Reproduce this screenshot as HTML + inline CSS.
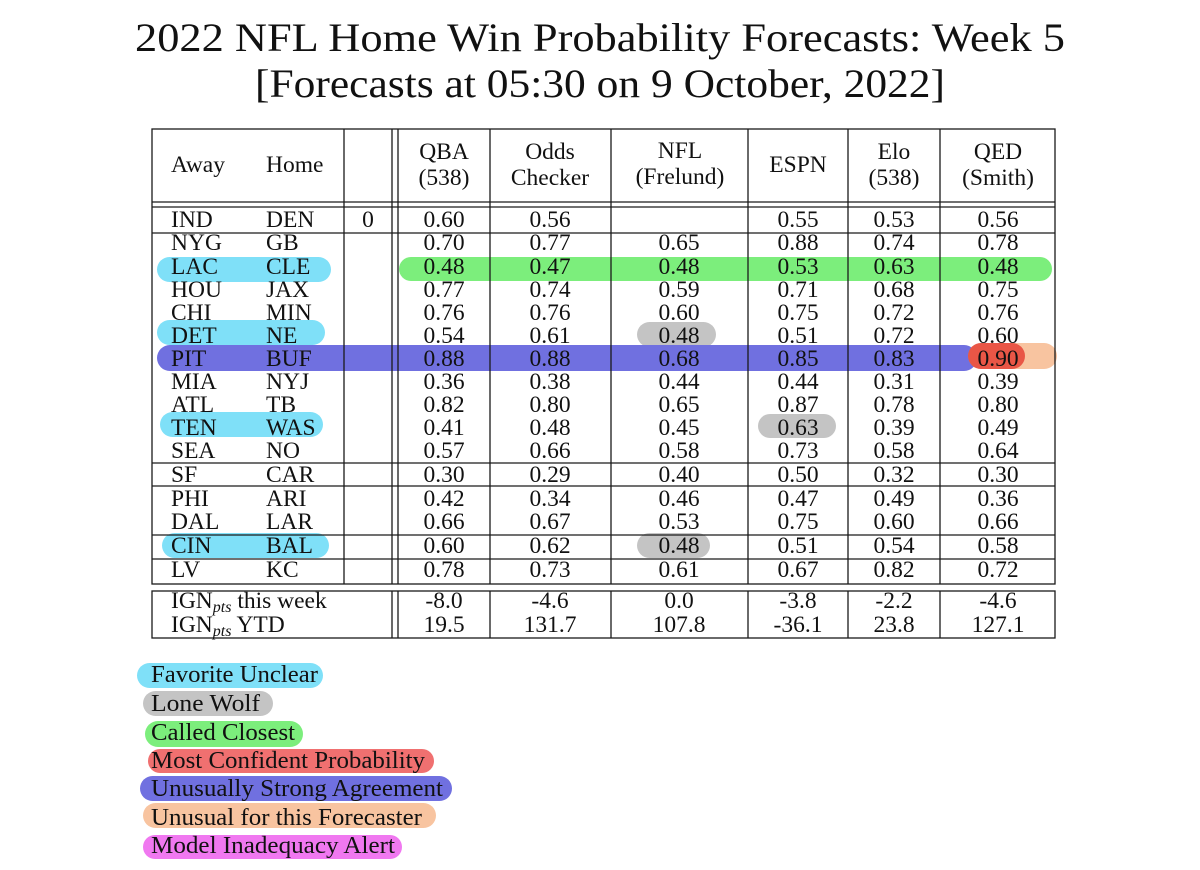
<!DOCTYPE html>
<html>
<head>
<meta charset="utf-8">
<style>
  html,body{margin:0;padding:0;background:#fff;}
  svg{display:block;}
  text{font-family:"Liberation Serif","DejaVu Serif",serif;fill:#111;}
  .t{font-size:40px;}
  .c{font-size:23.5px;text-anchor:middle;}
  .l{font-size:23.5px;}
  .lg{font-size:24px;}
  .ln{stroke:#1a1a1a;stroke-width:1.3;fill:none;}
</style>
</head>
<body>
<svg width="1200" height="870" viewBox="0 0 1200 870" xmlns="http://www.w3.org/2000/svg">
  <rect x="0" y="0" width="1200" height="870" fill="#fff"/>

  <!-- Title -->
  <text class="t" x="135" y="51" textLength="930" lengthAdjust="spacingAndGlyphs">2022 NFL Home Win Probability Forecasts: Week 5</text>
  <text class="t" x="255" y="97" textLength="690" lengthAdjust="spacingAndGlyphs">[Forecasts at 05:30 on 9 October, 2022]</text>

  <!-- Highlights -->
  <!-- LAC CLE -->
  <rect x="157" y="257" width="174" height="25" rx="12.5" fill="#7fe0f8"/>
  <rect x="399" y="257" width="653" height="24" rx="12" fill="#7cee7c"/>
  <!-- DET NE -->
  <rect x="157" y="320" width="168" height="25" rx="12.5" fill="#7fe0f8"/>
  <rect x="637" y="322" width="79" height="25" rx="12.5" fill="#c4c4c4"/>
  <!-- PIT BUF -->
  <rect x="157" y="345" width="820" height="26" rx="13" fill="#7070e0"/>
  <rect x="968" y="343" width="89" height="26" rx="13" fill="#f8c4a0"/>
  <rect x="968" y="343" width="57" height="26" rx="13" fill="#f07070" style="mix-blend-mode:multiply"/>
  <!-- TEN WAS -->
  <rect x="160" y="412" width="163" height="25" rx="12.5" fill="#7fe0f8"/>
  <rect x="758" y="414" width="78" height="24" rx="12" fill="#c4c4c4"/>
  <!-- CIN BAL -->
  <rect x="162" y="533" width="167" height="25" rx="12.5" fill="#7fe0f8"/>
  <rect x="637" y="533" width="73" height="25" rx="12.5" fill="#c4c4c4"/>

  <!-- Table 1 lines -->
  <rect class="ln" x="152" y="129" width="903" height="455"/>
  <line class="ln" x1="344" y1="129" x2="344" y2="584"/>
  <line class="ln" x1="392" y1="129" x2="392" y2="584"/>
  <line class="ln" x1="398" y1="129" x2="398" y2="584"/>
  <line class="ln" x1="490" y1="129" x2="490" y2="584"/>
  <line class="ln" x1="611" y1="129" x2="611" y2="584"/>
  <line class="ln" x1="748" y1="129" x2="748" y2="584"/>
  <line class="ln" x1="848" y1="129" x2="848" y2="584"/>
  <line class="ln" x1="940" y1="129" x2="940" y2="584"/>
  <line class="ln" x1="152" y1="202" x2="1055" y2="202"/>
  <line class="ln" x1="152" y1="207" x2="1055" y2="207"/>
  <line class="ln" x1="152" y1="233" x2="1055" y2="233"/>
  <line class="ln" x1="152" y1="463" x2="1055" y2="463"/>
  <line class="ln" x1="152" y1="486" x2="1055" y2="486"/>
  <line class="ln" x1="152" y1="535" x2="1055" y2="535"/>
  <line class="ln" x1="152" y1="559" x2="1055" y2="559"/>

  <!-- Table 2 lines -->
  <rect class="ln" x="152" y="591" width="903" height="47"/>
  <line class="ln" x1="392" y1="591" x2="392" y2="638"/>
  <line class="ln" x1="398" y1="591" x2="398" y2="638"/>
  <line class="ln" x1="490" y1="591" x2="490" y2="638"/>
  <line class="ln" x1="611" y1="591" x2="611" y2="638"/>
  <line class="ln" x1="748" y1="591" x2="748" y2="638"/>
  <line class="ln" x1="848" y1="591" x2="848" y2="638"/>
  <line class="ln" x1="940" y1="591" x2="940" y2="638"/>

  <!-- Header -->
  <text class="l" x="171" y="172">Away</text>
  <text class="l" x="266" y="172">Home</text>
  <text class="c" x="444" y="159">QBA</text>
  <text class="c" x="444" y="185">(538)</text>
  <text class="c" x="550" y="159">Odds</text>
  <text class="c" x="550" y="185">Checker</text>
  <text class="c" x="680" y="158">NFL</text>
  <text class="c" x="680" y="184">(Frelund)</text>
  <text class="c" x="798" y="172">ESPN</text>
  <text class="c" x="894" y="159">Elo</text>
  <text class="c" x="894" y="185">(538)</text>
  <text class="c" x="998" y="159">QED</text>
  <text class="c" x="998" y="185">(Smith)</text>

  <!-- Rows -->
  <g>
    <!-- IND -->
    <text class="l" x="171" y="227">IND</text><text class="l" x="266" y="227">DEN</text>
    <text class="c" x="368" y="227">0</text>
    <text class="c" x="444" y="227">0.60</text><text class="c" x="550" y="227">0.56</text>
    <text class="c" x="798" y="227">0.55</text><text class="c" x="894" y="227">0.53</text><text class="c" x="998" y="227">0.56</text>
    <!-- NYG -->
    <text class="l" x="171" y="250">NYG</text><text class="l" x="266" y="250">GB</text>
    <text class="c" x="444" y="250">0.70</text><text class="c" x="550" y="250">0.77</text><text class="c" x="679" y="250">0.65</text>
    <text class="c" x="798" y="250">0.88</text><text class="c" x="894" y="250">0.74</text><text class="c" x="998" y="250">0.78</text>
    <!-- LAC -->
    <text class="l" x="171" y="274">LAC</text><text class="l" x="266" y="274">CLE</text>
    <text class="c" x="444" y="274">0.48</text><text class="c" x="550" y="274">0.47</text><text class="c" x="679" y="274">0.48</text>
    <text class="c" x="798" y="274">0.53</text><text class="c" x="894" y="274">0.63</text><text class="c" x="998" y="274">0.48</text>
    <!-- HOU -->
    <text class="l" x="171" y="297">HOU</text><text class="l" x="266" y="297">JAX</text>
    <text class="c" x="444" y="297">0.77</text><text class="c" x="550" y="297">0.74</text><text class="c" x="679" y="297">0.59</text>
    <text class="c" x="798" y="297">0.71</text><text class="c" x="894" y="297">0.68</text><text class="c" x="998" y="297">0.75</text>
    <!-- CHI -->
    <text class="l" x="171" y="320">CHI</text><text class="l" x="266" y="320">MIN</text>
    <text class="c" x="444" y="320">0.76</text><text class="c" x="550" y="320">0.76</text><text class="c" x="679" y="320">0.60</text>
    <text class="c" x="798" y="320">0.75</text><text class="c" x="894" y="320">0.72</text><text class="c" x="998" y="320">0.76</text>
    <!-- DET -->
    <text class="l" x="171" y="343">DET</text><text class="l" x="266" y="343">NE</text>
    <text class="c" x="444" y="343">0.54</text><text class="c" x="550" y="343">0.61</text><text class="c" x="679" y="343">0.48</text>
    <text class="c" x="798" y="343">0.51</text><text class="c" x="894" y="343">0.72</text><text class="c" x="998" y="343">0.60</text>
    <!-- PIT -->
    <text class="l" x="171" y="366">PIT</text><text class="l" x="266" y="366">BUF</text>
    <text class="c" x="444" y="366">0.88</text><text class="c" x="550" y="366">0.88</text><text class="c" x="679" y="366">0.68</text>
    <text class="c" x="798" y="366">0.85</text><text class="c" x="894" y="366">0.83</text><text class="c" x="998" y="366">0.90</text>
    <!-- MIA -->
    <text class="l" x="171" y="389">MIA</text><text class="l" x="266" y="389">NYJ</text>
    <text class="c" x="444" y="389">0.36</text><text class="c" x="550" y="389">0.38</text><text class="c" x="679" y="389">0.44</text>
    <text class="c" x="798" y="389">0.44</text><text class="c" x="894" y="389">0.31</text><text class="c" x="998" y="389">0.39</text>
    <!-- ATL -->
    <text class="l" x="171" y="412">ATL</text><text class="l" x="266" y="412">TB</text>
    <text class="c" x="444" y="412">0.82</text><text class="c" x="550" y="412">0.80</text><text class="c" x="679" y="412">0.65</text>
    <text class="c" x="798" y="412">0.87</text><text class="c" x="894" y="412">0.78</text><text class="c" x="998" y="412">0.80</text>
    <!-- TEN -->
    <text class="l" x="171" y="435">TEN</text><text class="l" x="266" y="435">WAS</text>
    <text class="c" x="444" y="435">0.41</text><text class="c" x="550" y="435">0.48</text><text class="c" x="679" y="435">0.45</text>
    <text class="c" x="798" y="435">0.63</text><text class="c" x="894" y="435">0.39</text><text class="c" x="998" y="435">0.49</text>
    <!-- SEA -->
    <text class="l" x="171" y="458">SEA</text><text class="l" x="266" y="458">NO</text>
    <text class="c" x="444" y="458">0.57</text><text class="c" x="550" y="458">0.66</text><text class="c" x="679" y="458">0.58</text>
    <text class="c" x="798" y="458">0.73</text><text class="c" x="894" y="458">0.58</text><text class="c" x="998" y="458">0.64</text>
    <!-- SF -->
    <text class="l" x="171" y="482">SF</text><text class="l" x="266" y="482">CAR</text>
    <text class="c" x="444" y="482">0.30</text><text class="c" x="550" y="482">0.29</text><text class="c" x="679" y="482">0.40</text>
    <text class="c" x="798" y="482">0.50</text><text class="c" x="894" y="482">0.32</text><text class="c" x="998" y="482">0.30</text>
    <!-- PHI -->
    <text class="l" x="171" y="506">PHI</text><text class="l" x="266" y="506">ARI</text>
    <text class="c" x="444" y="506">0.42</text><text class="c" x="550" y="506">0.34</text><text class="c" x="679" y="506">0.46</text>
    <text class="c" x="798" y="506">0.47</text><text class="c" x="894" y="506">0.49</text><text class="c" x="998" y="506">0.36</text>
    <!-- DAL -->
    <text class="l" x="171" y="529">DAL</text><text class="l" x="266" y="529">LAR</text>
    <text class="c" x="444" y="529">0.66</text><text class="c" x="550" y="529">0.67</text><text class="c" x="679" y="529">0.53</text>
    <text class="c" x="798" y="529">0.75</text><text class="c" x="894" y="529">0.60</text><text class="c" x="998" y="529">0.66</text>
    <!-- CIN -->
    <text class="l" x="171" y="553">CIN</text><text class="l" x="266" y="553">BAL</text>
    <text class="c" x="444" y="553">0.60</text><text class="c" x="550" y="553">0.62</text><text class="c" x="679" y="553">0.48</text>
    <text class="c" x="798" y="553">0.51</text><text class="c" x="894" y="553">0.54</text><text class="c" x="998" y="553">0.58</text>
    <!-- LV -->
    <text class="l" x="171" y="577">LV</text><text class="l" x="266" y="577">KC</text>
    <text class="c" x="444" y="577">0.78</text><text class="c" x="550" y="577">0.73</text><text class="c" x="679" y="577">0.61</text>
    <text class="c" x="798" y="577">0.67</text><text class="c" x="894" y="577">0.82</text><text class="c" x="998" y="577">0.72</text>
  </g>

  <!-- IGN rows -->
  <text class="l" x="171" y="608">IGN<tspan font-style="italic" font-size="16" dy="4">pts</tspan><tspan dy="-4"> this week</tspan></text>
  <text class="l" x="171" y="632">IGN<tspan font-style="italic" font-size="16" dy="4">pts</tspan><tspan dy="-4"> YTD</tspan></text>
  <text class="c" x="444" y="608">-8.0</text><text class="c" x="550" y="608">-4.6</text><text class="c" x="679" y="608">0.0</text>
  <text class="c" x="798" y="608">-3.8</text><text class="c" x="894" y="608">-2.2</text><text class="c" x="998" y="608">-4.6</text>
  <text class="c" x="444" y="632">19.5</text><text class="c" x="550" y="632">131.7</text><text class="c" x="679" y="632">107.8</text>
  <text class="c" x="798" y="632">-36.1</text><text class="c" x="894" y="632">23.8</text><text class="c" x="998" y="632">127.1</text>

  <!-- Legend -->
  <rect x="137" y="663" width="186" height="25" rx="12.5" fill="#7fe0f8"/>
  <text class="lg" x="151" y="682" textLength="167" lengthAdjust="spacingAndGlyphs">Favorite Unclear</text>
  <rect x="143" y="691" width="130" height="25" rx="12.5" fill="#c4c4c4"/>
  <text class="lg" x="151" y="711" textLength="109" lengthAdjust="spacingAndGlyphs">Lone Wolf</text>
  <rect x="145" y="721" width="158" height="26" rx="13" fill="#7cee7c"/>
  <text class="lg" x="151" y="740" textLength="144" lengthAdjust="spacingAndGlyphs">Called Closest</text>
  <rect x="148" y="749" width="286" height="24" rx="12" fill="#f07070"/>
  <text class="lg" x="151" y="768" textLength="274" lengthAdjust="spacingAndGlyphs">Most Confident Probability</text>
  <rect x="140" y="776" width="312" height="25" rx="12.5" fill="#7070e0"/>
  <text class="lg" x="151" y="796" textLength="292" lengthAdjust="spacingAndGlyphs">Unusually Strong Agreement</text>
  <rect x="143" y="803" width="293" height="25" rx="12.5" fill="#f8c4a0"/>
  <text class="lg" x="151" y="825" textLength="271" lengthAdjust="spacingAndGlyphs">Unusual for this Forecaster</text>
  <rect x="143" y="835" width="259" height="24" rx="12" fill="#f078f0"/>
  <text class="lg" x="151" y="853" textLength="244" lengthAdjust="spacingAndGlyphs">Model Inadequacy Alert</text>
</svg>
</body>
</html>
